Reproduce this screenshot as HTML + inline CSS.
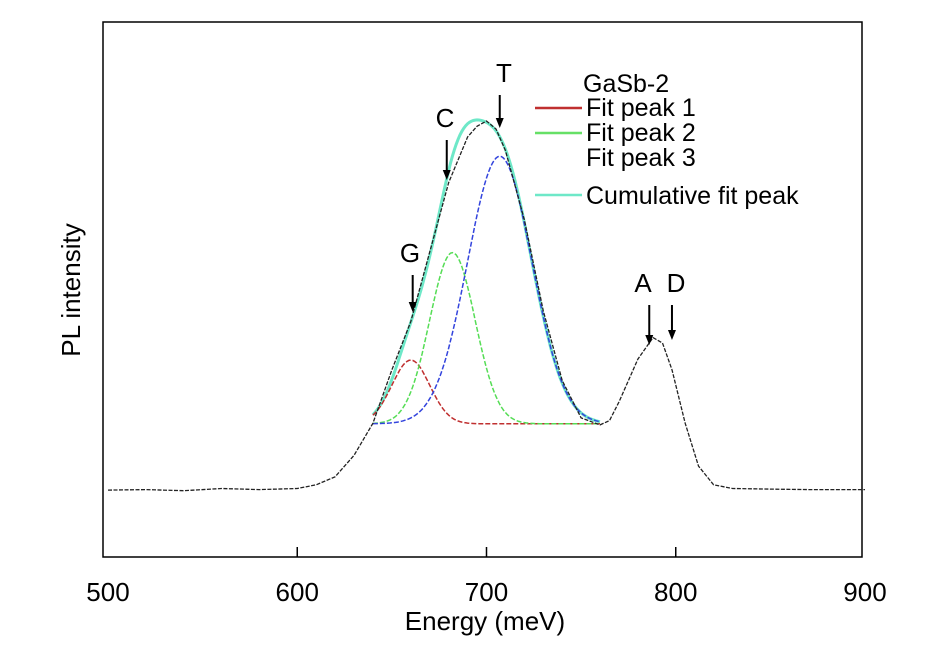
<!DOCTYPE html>
<html><head><meta charset="utf-8"><style>
body{margin:0;background:#fff}
svg text{font-family:"Liberation Sans","DejaVu Sans",sans-serif;fill:#000}
</style></head><body>
<svg width="945" height="643">
<rect x="103" y="22" width="759" height="535" fill="none" stroke="#000" stroke-width="1.5"/>
<g id="ticks"></g><g id="curves"></g>
<text x="80" y="290" font-size="26" text-anchor="middle" transform="rotate(-90 80 290)">PL intensity</text>
<text x="485" y="630" font-size="26" text-anchor="middle">Energy (meV)</text>
<g font-size="25">
<text x="583" y="92">GaSb-2</text>
<line x1="535" y1="108" x2="582" y2="108" stroke="#c03030" stroke-width="2.5"/>
<text x="586" y="116">Fit peak 1</text>
<line x1="535" y1="133" x2="582" y2="133" stroke="#66e066" stroke-width="2.5"/>
<text x="586" y="141">Fit peak 2</text>
<text x="586" y="166">Fit peak 3</text>
<line x1="535" y1="195" x2="582" y2="195" stroke="#6ee8c8" stroke-width="2.5"/>
<text x="586" y="204">Cumulative fit peak</text>
</g>
<g font-size="26" text-anchor="middle">
<text x="504" y="82">T</text>
<text x="445" y="127">C</text>
<text x="410" y="262">G</text>
<text x="643" y="292">A</text>
<text x="676" y="292">D</text>
</g>
<g id="arrows"></g>
</svg>
<script>
const energies=[500,520,540,560,580,600,610,620,630,640,650,660,670,680,690,695,700,705,710,720,730,740,750,760,765,770,780,788,793,798,805,812,820,830,850,870,900];
const intensity=[12.5,12.6,12.4,12.8,12.6,12.8,13.5,15,19,25,35,44,57,70,78.5,80.5,81.5,80,76,63,46,33,26,24.7,25.5,29,37,41,40,35,25,17,13.5,12.8,12.7,12.6,12.6];
const fitBase=24.9, fitStart=640, fitEnd=760;
const peakCenters=[660,682,707];
const peakAmps=[11.9,32,50];
const peakSigmas=[10,12,17];
const peakColors=['#c03030','#55dd55','#3344dd'];
const xTicks=[500,600,700,800,900];
const arrowE=[707,679,661,786,798];
const arrowY=[[95,128],[140,180],[275,312],[305,345],[305,340]];
const NS='http://www.w3.org/2000/svg';
const X=e=>108+(e-500)*1.8925, Y=i=>557-i*5.35;
const tk=document.getElementById('ticks');
xTicks.forEach(t=>{
 if(t>500&&t<900){const l=document.createElementNS(NS,'line');l.setAttribute('x1',X(t));l.setAttribute('x2',X(t));l.setAttribute('y1',557);l.setAttribute('y2',547);l.setAttribute('stroke','#000');l.setAttribute('stroke-width',1.5);
 
 tk.appendChild(l);}
 const s=document.createElementNS(NS,'text');s.setAttribute('x',X(t));s.setAttribute('y',601);s.setAttribute('font-size',26);s.setAttribute('text-anchor','middle');s.textContent=t;
 
 tk.appendChild(s);
});
const cg=document.getElementById('curves');
function path(pts,color,name,dash,w){const p=document.createElementNS(NS,'path');p.setAttribute('d','M'+pts.map(q=>X(q[0]).toFixed(1)+','+Y(q[1]).toFixed(1)).join('L'));p.setAttribute('fill','none');p.setAttribute('stroke',color);p.setAttribute('stroke-width',w||1.5);if(dash)p.setAttribute('stroke-dasharray',dash);
 
 cg.appendChild(p);}
const g=(k,e)=>peakAmps[k]*Math.exp(-((e-peakCenters[k])**2)/(2*peakSigmas[k]**2));
const cum=[];
for(let e=fitStart;e<=fitEnd;e+=1){let s=fitBase;for(let k=0;k<3;k++)s+=g(k,e);cum.push([e,s]);}
path(cum,'#6ee8c8','cumulative-fit-curve',null,3);
for(let k=0;k<3;k++){const pts=[];for(let e=fitStart;e<=fitEnd;e+=1)pts.push([e,fitBase+g(k,e)]);path(pts,peakColors[k],'fit-peak-'+(k+1),'5,2',1.5);}
path(energies.map((e,i)=>[e,intensity[i]]),'#222','pl-spectrum','4,1.5',1.3);
const ag=document.getElementById('arrows');
arrowE.forEach((e,i)=>{const x=X(e),[y1,y2]=arrowY[i];
 const l=document.createElementNS(NS,'path');l.setAttribute('d',`M${x},${y1}L${x},${y2-8}`);l.setAttribute('stroke','#000');l.setAttribute('stroke-width',2);
 
 ag.appendChild(l);
 const h=document.createElementNS(NS,'path');h.setAttribute('d',`M${x-4},${y2-10}L${x+4},${y2-10}L${x},${y2}Z`);h.setAttribute('fill','#000');
 
 ag.appendChild(h);});
</script>
</body></html>
